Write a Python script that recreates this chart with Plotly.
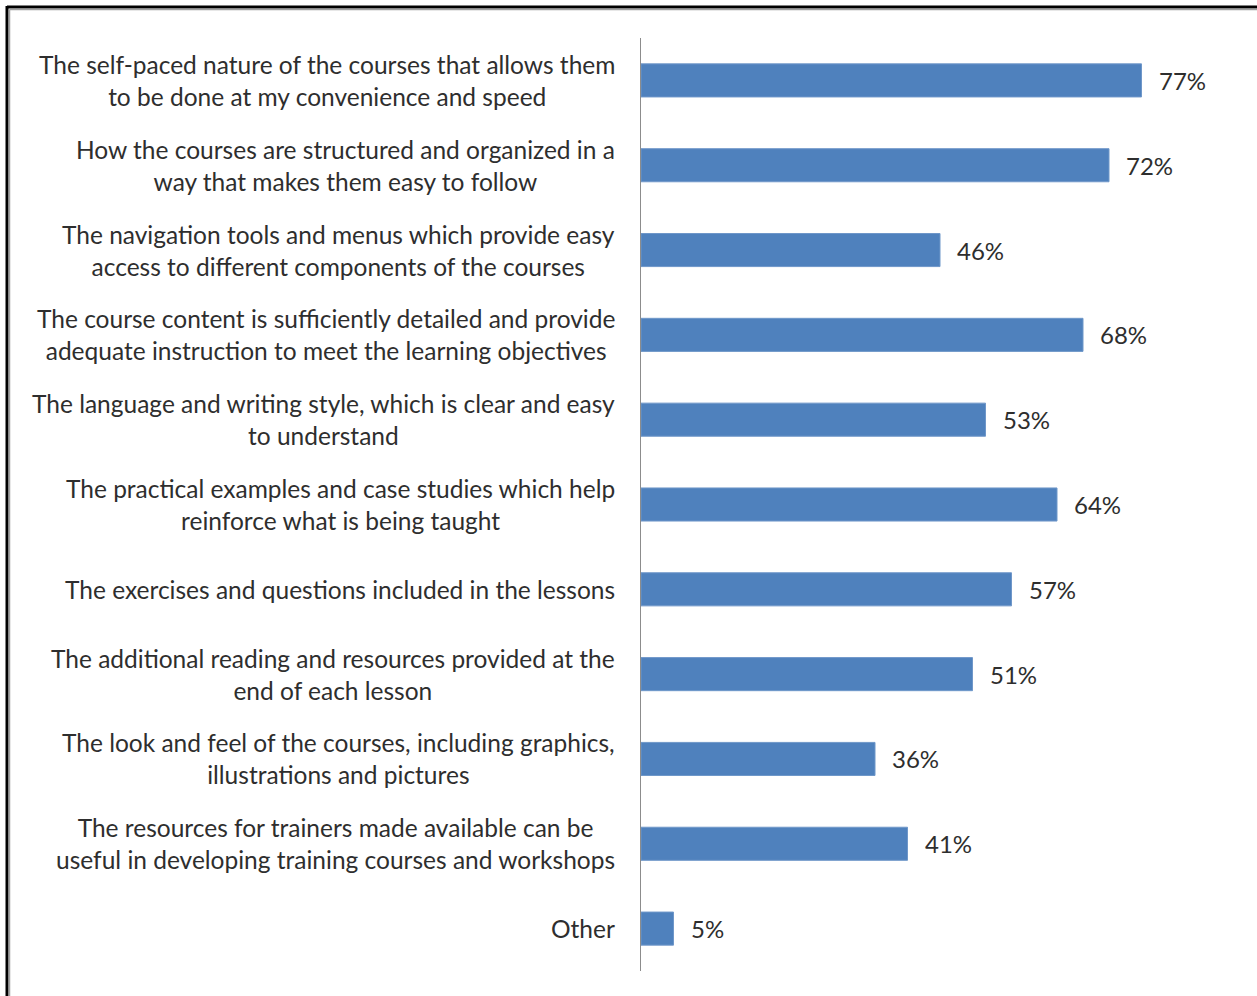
import plotly.graph_objects as go

# Survey responses: aspects of the courses rated as helpful
categories = [
    "The self-paced nature of the courses that allows them<br>to be done at my convenience and speed",
    "How the courses are structured and organized in a<br>way that makes them easy to follow",
    "The navigation tools and menus which provide easy<br>access to different components of the courses",
    "The course content is sufficiently detailed and provide<br>adequate instruction to meet the learning objectives",
    "The language and writing style, which is clear and easy<br>to understand",
    "The practical examples and case studies which help<br>reinforce what is being taught",
    "The exercises and questions included in the lessons",
    "The additional reading and resources provided at the<br>end of each lesson",
    "The look and feel of the courses, including graphics,<br>illustrations and pictures",
    "The resources for trainers made available can be<br>useful in developing training courses and workshops",
    "Other",
]
percentages = [77, 72, 46, 68, 53, 64, 57, 51, 36, 41, 5]

W, H = 1257, 996
L, T, B = 641, 38, 25
X_MAX = 94
PLOT_W = 611
R = W - L - PLOT_W
PLOT_H = H - T - B

FONT = "Lato"
TEXT_COLOR = "#2e2e2e"

ids = list(range(len(categories)))

fig = go.Figure(
    go.Bar(
        x=percentages,
        y=ids,
        orientation="h",
        width=0.39,
        marker=dict(color="#4F81BD", line=dict(color="#6F97C9", width=1)),
        hoverinfo="skip",
    )
)

annotations = []
# Category labels, centered lines, right-aligned block beside the axis
for i, cat in zip(ids, categories):
    annotations.append(dict(
        x=0, xref="paper", y=i, yref="y",
        text=cat, showarrow=False,
        xanchor="right", yanchor="middle", align="center",
        xshift=-24,
        font=dict(family=FONT, size=24.5, color=TEXT_COLOR),
    ))
# Value labels beyond the bar ends
for i, v in zip(ids, percentages):
    annotations.append(dict(
        x=v, xref="x", y=i, yref="y",
        text=f"{v}%", showarrow=False,
        xanchor="left", yanchor="middle",
        xshift=15,
        font=dict(family=FONT, size=24, color=TEXT_COLOR),
    ))


def px_x(px):
    return (px - L) / PLOT_W


def px_y(py):
    return (H - B - py) / PLOT_H


# Outer frame (top and left edges) with a soft grey inner edge
shapes = [
    dict(type="line", xref="paper", yref="paper",
         x0=px_x(7), x1=px_x(W + 5), y0=px_y(7), y1=px_y(7),
         line=dict(color="#000000", width=3)),
    dict(type="line", xref="paper", yref="paper",
         x0=px_x(7), x1=px_x(7), y0=px_y(6), y1=px_y(H + 5),
         line=dict(color="#000000", width=3)),
    dict(type="line", xref="paper", yref="paper",
         x0=px_x(9.5), x1=px_x(W + 5), y0=px_y(9.5), y1=px_y(9.5),
         line=dict(color="#a0a0a0", width=1.5)),
    dict(type="line", xref="paper", yref="paper",
         x0=px_x(9.5), x1=px_x(9.5), y0=px_y(9.5), y1=px_y(H + 5),
         line=dict(color="#a0a0a0", width=1.5)),
]

fig.update_layout(
    width=W, height=H,
    margin=dict(l=L, r=R, t=T, b=B, pad=0),
    paper_bgcolor="white",
    plot_bgcolor="white",
    showlegend=False,
    annotations=annotations,
    shapes=shapes,
    xaxis=dict(range=[0, X_MAX], visible=False, fixedrange=True),
    yaxis=dict(
        range=[len(categories) - 0.5, -0.5],
        showticklabels=False, ticks="", showgrid=False, zeroline=False,
        showline=True, linecolor="#8c8c8c", linewidth=1.2, mirror=False,
        fixedrange=True,
    ),
)

fig.write_html("out.html")
